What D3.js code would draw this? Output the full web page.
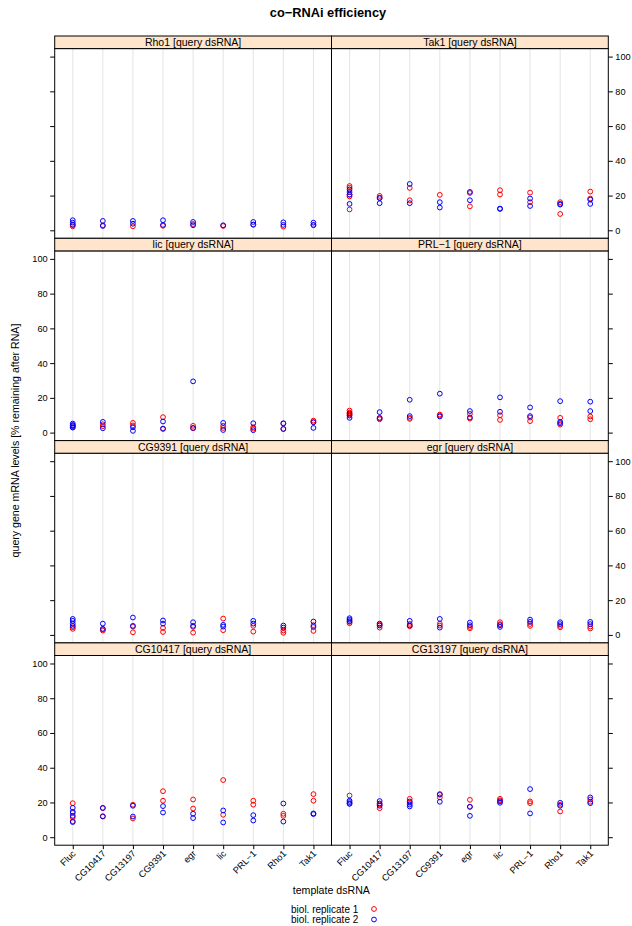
<!DOCTYPE html>
<html>
<head>
<meta charset="utf-8">
<script src="https://cdn.jsdelivr.net/npm/d3@7"></script>
<style>
body { margin: 0; background: #fff; }
svg text { font-family: "Liberation Sans", Arial, Helvetica, sans-serif; fill: #000; }
</style>
</head>
<body>
<script>
// template dsRNAs (x categories)
const templates = ["Fluc", "CG10417", "CG13197", "CG9391", "egr", "lic", "PRL\u22121", "Rho1", "Tak1"];

// query dsRNAs, one panel each (left to right, top to bottom)
const queries = ["Rho1", "Tak1", "lic", "PRL\u22121", "CG9391", "egr", "CG10417", "CG13197"];

// biol. replicate 1, per query, per template
const rep1 = [
  [[2.3, 3.0], [2.9], [2.3], [2.6], [3.6], [2.5], [3.2], [2.1], [2.9]],
  [[25.5, 24.5, 20.5, 19.5, 12], [19.8, 18.8], [24.4, 17.3], [20.4], [21.5, 13.8], [23.1, 20.6], [21.7, 16.2], [16.2, 9.4], [22.3, 18.3]],
  [[4.1, 3.1], [4.8, 3.7], [5.6, 4.1], [8.9, 2.1], [3.9, 2.5], [3.9, 2.7], [3.1, 2.3], [2.1, 5.2], [6.9, 6.0]],
  [[12.7, 11.6, 10.4], [8.1, 7.7], [8.5, 7.9], [10.4, 9.8], [10.8, 8.1], [10.0, 7.3], [8.7, 6.6], [8.5, 4.6], [9.3, 7.7]],
  [[4.4, 3.5], [2.5, 3.1], [4.8, 1.5], [4.0, 1.7], [4.6, 1.3], [9.4, 2.7], [5.2, 1.9], [2.5, 1.2], [5.6, 2.3]],
  [[7.5, 6.7], [5.8, 4.2], [6.3, 5.0], [6.5, 5.4], [4.6, 3.8], [7.3, 6.2], [6.3, 5.2], [5.2, 4.4], [4.8, 3.7]],
  [[19.6, 14.0, 11.5, 9.2], [16.7, 12.1], [18.7, 10.8], [26.5, 21.0], [21.7, 16.5], [32.9, 12.9], [21.0, 18.7], [13.5, 12.3], [24.8, 21.0]],
  [[24.0, 19.4], [18.7, 16.7], [22.1, 19.8], [24.4, 22.9], [21.5, 17.5], [22.1, 21.2], [20.6, 19.6], [18.7, 14.8], [21.7, 20.4]]
];

// biol. replicate 2, per query, per template
const rep2 = [
  [[5.8, 4.4, 3.3], [5.4, 2.5], [5.4, 3.8], [5.8, 3.1], [4.8, 2.9], [2.9], [4.8, 3.3], [4.6, 3.1], [4.4, 3.1]],
  [[23.5, 22.0, 20.5, 15.2], [18.5, 15.6], [26.7, 15.6], [16.2, 13.1], [22.1, 17.3], [12.5, 12.3], [18.3, 14.0], [15.2, 14.8], [17.7, 15.2]],
  [[5.2, 4.4, 3.7, 2.9], [6.2, 2.5], [3.1, 1.0], [6.4, 2.3], [29.5, 2.7], [5.6, 1.5], [5.4, 1.4], [5.4, 2.1], [6.0, 2.7]],
  [[11.0, 9.8, 8.5], [11.8, 8.5], [18.9, 9.5], [22.4, 9.3], [12.4, 8.7], [20.3, 12.0], [14.5, 9.5], [18.1, 6.2, 5.4], [17.8, 12.4]],
  [[9.2, 8.1, 6.5, 5.2], [6.5, 3.5], [10.0, 5.2], [8.3, 6.5], [7.3, 5.2], [5.8, 4.8], [8.1, 6.5], [5.4, 4.2], [7.7, 4.6]],
  [[9.6, 8.7, 7.9], [6.5, 5.4], [8.1, 5.4], [9.2, 4.2], [7.1, 5.6], [5.6, 4.6], [8.8, 7.5], [7.3, 6.2], [7.5, 6.2]],
  [[16.9, 14.6, 12.3, 8.7], [16.9, 11.9], [18.1, 11.9], [17.9, 14.2], [13.5, 11.0], [15.4, 8.5], [12.7, 9.6], [19.4, 9.0], [13.7, 13.3]],
  [[21.0, 20.2, 19.2], [20.8, 19.4, 18.1], [20.6, 18.8, 17.7], [24.8, 20.4], [17.5, 12.3], [20.6, 19.8], [27.7, 13.7], [19.8, 18.1], [22.9, 19.6]]
];

const yTicks = [0, 20, 40, 60, 80, 100];
const seriesNames = ["biol. replicate 1", "biol. replicate 2"];
const seriesColors = ["#ff0000", "#0000ff"];

let w = 632;
let h = 926;

let left = 54.7;
let top0 = 36;
let panelW = 276.8;
let rowH = 202.3;
let stripH = 12.6;
let panelH = rowH - stripH;

let svg = d3.select("body")
            .append("svg")
            .attr("width", w)
            .attr("height", h);

let x = d3.scalePoint()
          .domain(templates)
          .range([0, panelW])
          .padding(0.6);

let y = d3.scaleLinear()
          .domain([-4.6, 104.6])
          .range([panelH, 0]);

queries.forEach((q, k) => {
  let row = Math.floor(k / 2);
  let col = k % 2;
  let gx = left + col * panelW;
  let gy = top0 + row * rowH;

  let g = svg.append("g").attr("transform", `translate(${gx},${gy + stripH})`);

  // reference lines at each template
  g.selectAll("line.grid")
   .data(templates)
   .enter()
   .append("line")
   .attr("class", "grid")
   .attr("x1", d => x(d)).attr("x2", d => x(d))
   .attr("y1", 0).attr("y2", panelH)
   .attr("stroke", "#e4e4e4")
   .attr("stroke-width", 1);

  // points, replicate 1 then 2
  [rep1, rep2].forEach((rep, s) => {
    let pts = [];
    rep[k].forEach((vals, i) => vals.forEach(v => pts.push({t: templates[i], v: v})));
    g.selectAll("circle.s" + s)
     .data(pts)
     .enter()
     .append("circle")
     .attr("class", "s" + s)
     .attr("cx", d => x(d.t))
     .attr("cy", d => y(d.v))
     .attr("r", 2.4)
     .attr("fill", "none")
     .attr("stroke", seriesColors[s])
     .attr("stroke-width", 1);
  });

  // panel box
  g.append("rect")
   .attr("width", panelW).attr("height", panelH)
   .attr("fill", "none")
   .attr("stroke", "#000")
   .attr("stroke-width", 1);

  // strip
  let strip = svg.append("g").attr("transform", `translate(${gx},${gy})`);
  strip.append("rect")
       .attr("width", panelW).attr("height", stripH)
       .attr("fill", "#ffe5cc")
       .attr("stroke", "#000")
       .attr("stroke-width", 1);
  strip.append("text")
       .attr("x", panelW / 2).attr("y", stripH / 2)
       .attr("dy", "0.36em")
       .attr("text-anchor", "middle")
       .style("font-size", "10.5px")
       .text(q + " [query dsRNA]");

  // y axes, alternating labels
  let labelled = (col === 0) ? (row % 2 === 1) : (row % 2 === 0);
  let ax = (col === 0 ? d3.axisLeft(y) : d3.axisRight(y))
             .tickValues(yTicks)
             .tickSize(4.5)
             .tickPadding(2.5);
  if (!labelled) ax.tickFormat("");
  let ag = g.append("g")
            .attr("transform", col === 0 ? "translate(0,0)" : `translate(${panelW},0)`)
            .call(ax);
  ag.select(".domain").remove();
  ag.selectAll("line").attr("stroke", "#000");
  ag.selectAll("text").style("font-size", "9.2px").attr("fill", "#000");

  // x axis on the bottom row
  if (row === 3) {
    let xg = g.append("g")
              .attr("transform", `translate(0,${panelH})`)
              .call(d3.axisBottom(x).tickSize(4).tickSizeOuter(0));
    xg.select(".domain").remove();
    xg.selectAll("line").attr("stroke", "#000");
    xg.selectAll("text")
      .attr("y", null)
      .attr("dy", null)
      .attr("transform", "translate(3,9) rotate(-45)")
      .attr("text-anchor", "end")
      .style("font-size", "9.2px")
      .attr("fill", "#000");
  }
});

// title
svg.append("text")
   .attr("x", 328).attr("y", 17)
   .attr("text-anchor", "middle")
   .style("font-size", "12.8px")
   .style("font-weight", "bold")
   .text("co\u2212RNAi efficiency");

// axis titles
svg.append("text")
   .attr("x", 331.3).attr("y", 894)
   .attr("text-anchor", "middle")
   .style("font-size", "10.6px")
   .text("template dsRNA");

svg.append("text")
   .attr("transform", "translate(18.5,440.5) rotate(-90)")
   .attr("text-anchor", "middle")
   .style("font-size", "10.6px")
   .text("query gene mRNA levels [% remaining after RNA]");

// legend
let legend = svg.append("g")
                .attr("class", "legend")
                .attr("transform", "translate(0,909)");

legend.selectAll("text")
      .data(seriesNames)
      .enter()
      .append("text")
      .attr("x", 358.3)
      .attr("y", (d, i) => i * 10.5)
      .attr("dy", "0.36em")
      .attr("text-anchor", "end")
      .style("font-size", "10px")
      .text(d => d);

legend.selectAll("circle")
      .data(seriesColors)
      .enter()
      .append("circle")
      .attr("cx", 374)
      .attr("cy", (d, i) => i * 10.5)
      .attr("r", 2.4)
      .attr("fill", "none")
      .attr("stroke", d => d)
      .attr("stroke-width", 1);
</script>
</body>
</html>
